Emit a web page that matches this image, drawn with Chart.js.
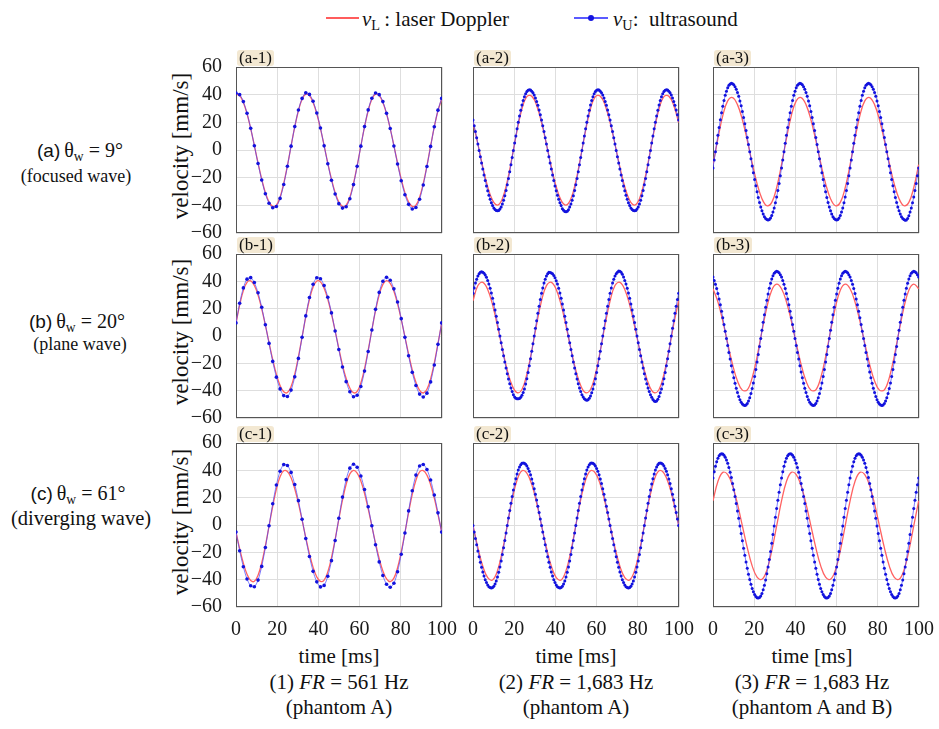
<!DOCTYPE html>
<html>
<head>
<meta charset="utf-8">
<script src="https://cdn.jsdelivr.net/npm/chart.js@4.4.1/dist/chart.umd.min.js"></script>
<style>
  html, body { margin: 0; padding: 0; background: #fff; }
  #fig { position: relative; width: 939px; height: 729px; background: #fff; overflow: hidden;
         font-family: 'Liberation Serif', 'Times New Roman', serif; color: #111; }
  .txt { position: absolute; white-space: nowrap; line-height: 1; transform: translate(-50%, -50%); font-size: 21px; }
  .lt { position: absolute; white-space: nowrap; line-height: 1; transform: translateY(-50%); font-size: 21px; }
  .tag { position: absolute; font-size: 17px; line-height: 16px; height: 16px; padding: 0 2px; background: #f3e8d2; border-radius: 3px; }
  .ylab { position: absolute; font-size: 23px; white-space: nowrap; line-height: 1; transform: translate(-50%, -50%) rotate(-90deg); }
  .sans { font-family: 'Liberation Sans', Arial, sans-serif; font-size: 19px; }
  sub { font-size: 68%; vertical-align: -0.32em; line-height: 0; font-style: normal; }
  canvas { position: absolute; }
</style>
</head>
<body>
<div id="fig">
  <!-- legend -->
  <div style="position:absolute;left:326px;top:17px;width:33px;height:2px;background:#ff5c5c;"></div>
  <div class="lt" style="left:362px;top:19px;"><i>v</i><sub>L</sub>&thinsp;: laser Doppler</div>
  <div style="position:absolute;left:574px;top:17px;width:34px;height:2px;background:#5a5aff;"></div>
  <div style="position:absolute;left:588px;top:15px;width:6px;height:6px;border-radius:3px;background:#1414e0;"></div>
  <div class="lt" style="left:613px;top:19px;"><i>v</i><sub>U</sub>:&nbsp; ultrasound</div>

  <!-- row labels -->
  <div class="txt" style="left:80px;top:150px;font-size:20px;"><span class="sans">(a)</span>&thinsp;θ<sub>w</sub> = 9°</div>
  <div class="txt" style="left:76px;top:176px;font-size:18px;">(focused wave)</div>
  <div class="txt" style="left:77px;top:321px;font-size:20px;"><span class="sans">(b)</span>&thinsp;θ<sub>w</sub> = 20°</div>
  <div class="txt" style="left:80px;top:344px;font-size:18px;">(plane wave)</div>
  <div class="txt" style="left:78px;top:493px;font-size:20px;"><span class="sans">(c)</span>&thinsp;θ<sub>w</sub> = 61°</div>
  <div class="txt" style="left:81px;top:518px;font-size:20.5px;">(diverging wave)</div>

  <!-- y axis titles -->
  <div class="ylab" style="left:180px;top:146px;">velocity [mm/s]</div>
  <div class="ylab" style="left:180px;top:332px;">velocity [mm/s]</div>
  <div class="ylab" style="left:180px;top:522px;">velocity [mm/s]</div>

  <!-- bottom captions -->
  <div class="txt" style="left:339px;top:656px;">time [ms]</div>
  <div class="txt" style="left:339px;top:682px;">(1) <i>FR</i> = 561 Hz</div>
  <div class="txt" style="left:339px;top:707px;">(phantom A)</div>
  <div class="txt" style="left:576px;top:656px;">time [ms]</div>
  <div class="txt" style="left:576px;top:682px;">(2) <i>FR</i> = 1,683 Hz</div>
  <div class="txt" style="left:576px;top:707px;">(phantom A)</div>
  <div class="txt" style="left:812px;top:656px;">time [ms]</div>
  <div class="txt" style="left:812px;top:682px;">(3) <i>FR</i> = 1,683 Hz</div>
  <div class="txt" style="left:812px;top:707px;">(phantom A and B)</div>
</div>

<script>
// sample times [ms]
const timeSlow = [0, 1.78, 3.57, 5.35, 7.13, 8.91, 10.70, 12.48, 14.26, 16.04, 17.83, 19.61, 21.39, 23.17, 24.96, 26.74, 28.52, 30.30, 32.09, 33.87,
  35.65, 37.43, 39.22, 41.00, 42.78, 44.56, 46.35, 48.13, 49.91, 51.69, 53.48, 55.26, 57.04, 58.82, 60.61, 62.39, 64.17, 65.95, 67.74,
  69.52, 71.30, 73.08, 74.87, 76.65, 78.43, 80.21, 82.00, 83.78, 85.56, 87.34, 89.13, 90.91, 92.69, 94.47, 96.26, 98.04, 99.82];

const timeFast = [0, 0.59, 1.19, 1.78, 2.38, 2.97, 3.57, 4.16, 4.75, 5.35,
  5.94, 6.54, 7.13, 7.72, 8.32, 8.91, 9.51, 10.10, 10.70, 11.29,
  11.88, 12.48, 13.07, 13.67, 14.26, 14.85, 15.45, 16.04, 16.64, 17.23,
  17.83, 18.42, 19.01, 19.61, 20.20, 20.80, 21.39, 21.98, 22.58, 23.17,
  23.77, 24.36, 24.96, 25.55, 26.14, 26.74, 27.33, 27.93, 28.52, 29.11,
  29.71, 30.30, 30.90, 31.49, 32.09, 32.68, 33.27, 33.87, 34.46, 35.06,
  35.65, 36.25, 36.84, 37.43, 38.03, 38.62, 39.22, 39.81, 40.40, 41.00,
  41.59, 42.19, 42.78, 43.38, 43.97, 44.56, 45.16, 45.75, 46.35, 46.94,
  47.53, 48.13, 48.72, 49.32, 49.91, 50.51, 51.10, 51.69, 52.29, 52.88,
  53.48, 54.07, 54.66, 55.26, 55.85, 56.45, 57.04, 57.63, 58.23, 58.82,
  59.42, 60.01, 60.61, 61.20, 61.79, 62.39, 62.98, 63.58, 64.17, 64.77,
  65.36, 65.95, 66.55, 67.14, 67.74, 68.33, 68.92, 69.52, 70.11, 70.71,
  71.30, 71.90, 72.49, 73.08, 73.68, 74.27, 74.87, 75.46, 76.05, 76.65,
  77.24, 77.84, 78.43, 79.03, 79.62, 80.21, 80.81, 81.40, 82.00, 82.59,
  83.18, 83.78, 84.37, 84.97, 85.56, 86.16, 86.75, 87.34, 87.94, 88.53,
  89.13, 89.72, 90.32, 90.91, 91.50, 92.10, 92.69, 93.29, 93.88, 94.47,
  95.07, 95.66, 96.26, 96.85, 97.45, 98.04, 98.63, 99.23, 99.82];

const timeLaser = [0, 2.38, 4.75, 7.13, 9.51, 11.88, 14.26, 16.64, 19.01, 21.39, 23.77, 26.14, 28.52, 30.90, 33.27,
  35.65, 38.03, 40.40, 42.78, 45.16, 47.53, 49.91, 52.29, 54.66, 57.04, 59.42, 61.79, 64.17, 66.55, 68.92,
  71.30, 73.68, 76.05, 78.43, 80.81, 83.18, 85.56, 87.94, 90.32, 92.69, 95.07, 97.45, 99.82];

// (a-1) FR = 561 Hz, focused wave
const blueA1 = [41.1, 40.0, 35.0, 26.6, 15.7, 3.1, -9.8, -21.7, -31.6, -38.5, -41.8, -40.8, -35.0, -24.9, -11.7, 2.8, 16.9, 28.9, 37.3,
  41.3, 40.2, 35.2, 26.8, 15.9, 3.0, -9.9, -21.9, -31.8, -38.8, -42.0, -41.0, -35.2, -25.0, -11.8, 2.8, 16.9, 29.0, 37.4,
  41.2, 40.0, 35.0, 26.5, 15.5, 2.9, -10.1, -22.2, -32.3, -39.3, -42.6, -41.6, -35.6, -25.3, -11.9, 2.6, 16.8, 28.8, 37.3];
const redA1 = [40.4, 39.3, 34.4, 26.2, 15.5, 3.2, -9.4, -21.1, -30.8, -37.6, -40.8, -39.9, -34.1, -24.2, -11.3, 2.9, 16.7, 28.4, 36.7,
  40.4, 39.3, 34.4, 26.2, 15.5, 3.2, -9.4, -21.1, -30.8, -37.6, -40.8, -39.9, -34.1, -24.2, -11.3, 2.9, 16.7, 28.4, 36.7,
  40.4, 39.3, 34.4, 26.2, 15.5, 3.2, -9.4, -21.1, -30.8, -37.6, -40.8, -39.9, -34.1, -24.2, -11.3, 2.9, 16.7, 28.4, 36.7];

// (a-2)
const blueA2 = [21.6, 17.5, 13.3, 8.9, 4.3, -0.3, -4.8, -9.4, -13.8, -18.0, -22.1, -26.0, -29.5, -32.8, -35.6, -38.1, -40.2, -41.9, -43.0, -43.8,
  -44.0, -43.7, -42.7, -41.2, -39.0, -36.3, -33.0, -29.3, -25.1, -20.6, -15.8, -10.7, -5.5, -0.3, 5.0, 10.2, 15.3, 20.1, 24.6, 28.8,
  32.5, 35.8, 38.5, 40.7, 42.2, 43.2,
  43.5, 43.3, 42.5, 41.4, 39.7, 37.6, 35.1, 32.3, 29.0, 25.5, 21.6, 17.5, 13.3, 8.9, 4.3, -0.3, -4.8, -9.4, -13.8, -18.0,
  -22.1, -26.0, -29.5, -32.8, -35.6, -38.1, -40.2, -42.4, -43.6, -44.4, -44.6, -44.3, -43.2, -41.2, -39.0, -36.3, -33.0, -29.3, -25.1, -20.6,
  -15.8, -10.7, -5.5, -0.3, 5.0, 10.2, 15.3, 20.1, 24.6, 28.8, 32.5, 35.8, 38.5, 40.7, 42.2, 43.2,
  43.5, 43.3, 42.5, 41.4, 39.7, 37.6, 35.1, 32.3, 29.0, 25.5, 21.6, 17.5, 13.3, 8.9, 4.3, -0.3, -4.8, -9.4, -13.8, -18.0,
  -22.1, -26.0, -29.5, -32.8, -35.6, -38.1, -40.2, -41.9, -43.0, -43.8, -44.0, -43.7, -42.7, -41.2, -39.0, -36.3, -33.0, -29.3, -25.1, -20.6,
  -15.8, -10.7, -5.5, -0.3, 5.0, 10.2, 15.3, 20.1, 24.6, 28.8, 32.5, 35.8, 38.5, 40.7, 42.2, 43.2,
  43.5, 43.3, 42.5, 41.4, 39.7, 37.6, 35.1, 32.3, 29.0, 25.5, 21.6];
const redA2 = [19.9, 4.2, -12.3, -26.6, -36.4, -39.8, -35.2, -22.6, -4.8, 14.1, 29.8, 38.6, 38.9, 32.2,
  19.9, 4.2, -12.3, -26.6, -36.4, -39.8, -35.2, -22.6, -4.8, 14.1, 29.8, 38.6, 38.9, 32.2,
  19.9, 4.2, -12.3, -26.6, -36.4, -39.8, -35.2, -22.6, -4.8, 14.1, 29.8, 38.6, 38.9, 32.2, 19.9];

// (a-3)
const blueA3 = [-13.0, -7.2, -1.2, 4.8, 10.6, 16.3, 21.8, 26.9, 31.6, 35.8, 39.5, 42.5, 45.0, 46.8, 47.8,
  48.2, 47.9, 47.1, 45.8, 43.9, 41.6, 38.8, 35.5, 31.9, 27.8, 23.5, 18.9, 14.1, 9.1, 4.0, -1.2, -6.4, -11.5, -16.5, -21.3,
  -25.9, -30.2, -34.3, -37.9, -41.2, -44.0, -46.3, -48.2, -49.5, -50.3, -50.6, -50.2, -49.2, -47.4, -44.9, -41.9, -38.2, -34.0, -29.3, -24.2,
  -18.7, -13.0, -7.2, -1.2, 4.8, 10.6, 16.3, 21.8, 26.9, 31.6, 35.8, 39.5, 42.5, 45.0, 46.8, 47.8,
  48.2, 47.9, 47.1, 45.8, 43.9, 41.6, 38.8, 35.5, 31.9, 27.8, 23.5, 18.9, 14.1, 9.1, 4.0, -1.2, -6.4, -11.5, -16.5, -21.3,
  -25.9, -30.2, -34.3, -37.9, -41.2, -44.0, -46.3, -48.2, -49.5, -50.3, -50.6, -50.2, -49.2, -47.4, -44.9, -41.9, -38.2, -34.0, -29.3, -24.2,
  -18.7, -13.0, -7.2, -1.2, 4.8, 10.6, 16.3, 21.8, 26.9, 31.6, 35.8, 39.5, 42.5, 45.0, 46.8, 47.8,
  48.2, 47.9, 47.1, 45.8, 43.9, 41.6, 38.8, 35.5, 31.9, 27.8, 23.5, 18.9, 14.1, 9.1, 4.0, -1.2, -6.4, -11.5, -16.5, -21.3,
  -25.9, -30.2, -34.3, -37.9, -41.2, -44.0, -46.3, -48.2, -49.5, -50.3, -50.8, -50.6, -49.6, -47.6, -44.9, -41.9, -38.2, -34.0, -29.3, -24.2,
  -18.7, -13.0];
const redA3 = [-10.6, 8.2, 24.9, 35.5, 37.9, 32.8, 21.9, 7.0, -9.4, -24.3, -35.2, -40.3, -37.9, -27.3,
  -10.6, 8.2, 24.9, 35.5, 37.9, 32.8, 21.9, 7.0, -9.4, -24.3, -35.2, -40.3, -37.9, -27.3,
  -10.6, 8.2, 24.9, 35.5, 37.9, 32.8, 21.9, 7.0, -9.4, -24.3, -35.2, -40.3, -37.9, -27.3, -10.6];

// (b-1) FR = 561 Hz, plane wave
const blueB1 = [9.6, 24.0, 35.2, 41.6, 42.7, 39.1, 31.7, 21.0, 8.2, -5.4, -18.6, -30.1, -38.7, -43.6, -44.3, -39.6, -29.9, -16.4, -0.9, 14.7,
  28.2, 37.9, 42.6, 41.9, 37.0, 28.4, 16.9, 3.7, -9.9, -22.7, -33.4, -40.8, -44.4, -43.3, -36.9, -25.7, -11.3, 4.4, 19.5, 31.9,
  40.1, 42.9, 40.8, 34.5, 24.9, 12.7, -0.9, -14.4, -26.6, -36.2, -42.5, -44.6, -41.8, -33.6, -21.2, -6.1, 9.6];
const redB1 = [9.2, 22.7, 33.2, 39.3, 40.3, 36.9, 29.9, 19.9, 7.9, -4.9, -17.3, -28.1, -36.2, -40.8, -41.4, -37.0, -27.9, -15.2, -0.6, 14.0,
  26.7, 35.8, 40.2, 39.6, 35.0, 26.9, 16.1, 3.7, -9.1, -21.2, -31.1, -38.1, -41.5, -40.5, -34.4, -24.0, -10.4, 4.4, 18.5, 30.2,
  37.8, 40.5, 38.5, 32.7, 23.6, 12.1, -0.6, -13.3, -24.8, -33.9, -39.7, -41.7, -39.0, -31.4, -19.7, -5.6, 9.2];

// (b-2)
const blueB2 = [31.2, 35.2, 38.7, 41.6, 43.9, 45.6, 46.7,
  47.0, 46.7, 46.0, 44.7, 42.9, 40.7, 38.0, 34.9, 31.4, 27.6, 23.5, 19.1, 14.5, 9.8, 4.9, 0, -4.9, -9.8, -14.5, -19.1,
  -23.5, -27.6, -31.4, -34.9, -38.0, -40.7, -42.9, -44.7, -45.6, -45.9, -46.0, -45.7, -44.8, -43.3, -41.3, -38.7, -35.2, -31.2, -26.7, -21.8,
  -16.7, -11.2, -5.7, 0, 5.7, 11.2, 16.7, 21.8, 26.7, 31.2, 35.2, 38.7, 41.6, 43.9, 45.6, 46.7,
  46.4, 46.1, 45.5, 44.3, 42.6, 40.5, 38.0, 34.9, 31.4, 27.6, 23.5, 19.1, 14.5, 9.8, 4.9, 0, -4.9, -9.8, -14.5, -19.1,
  -23.5, -27.6, -31.4, -34.9, -38.0, -40.7, -42.9, -44.7, -46.0, -46.7, -47.0, -46.7, -45.6, -43.9, -41.6, -38.7, -35.2, -31.2, -26.7, -21.8,
  -16.7, -11.2, -5.7, 0, 5.7, 11.2, 16.7, 21.8, 26.7, 31.2, 35.2, 38.7, 41.6, 43.9, 45.6, 46.7,
  47.6, 47.4, 46.6, 45.1, 43.1, 40.7, 38.0, 34.9, 31.4, 27.6, 23.5, 19.1, 14.5, 9.8, 4.9, 0, -4.9, -9.8, -14.5, -19.1,
  -23.5, -27.6, -31.4, -34.9, -38.0, -40.7, -42.9, -44.9, -46.5, -47.5, -47.9, -47.5, -46.2, -44.2, -41.6, -38.7, -35.2, -31.2, -26.7, -21.8,
  -16.7, -11.2, -5.7, 0, 5.7, 11.2, 16.7, 21.8, 26.7, 31.2];
const redB2 = [25.8, 36.9, 39.3, 34.1, 22.8, 7.3, -9.5, -25.0, -36.3, -41.5, -39.1, -28.0, -10.8, 8.6,
  25.8, 36.9, 39.3, 34.1, 22.8, 7.3, -9.5, -25.0, -36.3, -41.5, -39.1, -28.0, -10.8, 8.6,
  25.8, 36.9, 39.3, 34.1, 22.8, 7.3, -9.5, -25.0, -36.3, -41.5, -39.1, -28.0, -10.8, 8.6, 25.8];

// (b-3)
const blueB3 = [43.1, 40.7, 37.9, 34.7, 31.1, 27.1, 22.8, 18.2, 13.4, 8.4, 3.4, -1.8, -6.9, -12.0, -16.9, -21.7,
  -26.3, -30.6, -34.6, -38.2, -41.4, -44.2, -46.6, -48.4, -49.7, -50.5, -50.8, -50.4, -49.4, -47.6, -45.2, -42.1, -38.5, -34.3, -29.6, -24.5,
  -19.1, -13.5, -7.7, -1.8, 4.2, 10.0, 15.6, 21.0, 26.1, 30.8, 35.0, 38.6, 41.7, 44.1, 45.9, 46.9,
  47.3, 47.0, 46.2, 44.9, 43.1, 40.7, 37.9, 34.7, 31.1, 27.1, 22.8, 18.2, 13.4, 8.4, 3.4, -1.8, -6.9, -12.0, -16.9, -21.7,
  -26.3, -30.6, -34.6, -38.2, -41.4, -44.2, -46.6, -48.4, -49.7, -50.5, -50.8, -50.4, -49.4, -47.6, -45.2, -42.1, -38.5, -34.3, -29.6, -24.5,
  -19.1, -13.5, -7.7, -1.8, 4.2, 10.0, 15.6, 21.0, 26.1, 30.8, 35.0, 38.6, 41.7, 44.1, 45.9, 46.9,
  47.3, 47.0, 46.2, 44.9, 43.1, 40.7, 37.9, 34.7, 31.1, 27.1, 22.8, 18.2, 13.4, 8.4, 3.4, -1.8, -6.9, -12.0, -16.9, -21.7,
  -26.3, -30.6, -34.6, -38.2, -41.4, -44.2, -46.6, -48.4, -49.7, -50.5, -50.8, -50.4, -49.4, -47.6, -45.2, -42.1, -38.5, -34.3, -29.6, -24.5,
  -19.1, -13.5, -7.7, -1.8, 4.2, 10.0, 15.6, 21.0, 26.1, 30.8, 35.0, 38.6, 41.7, 44.1, 45.9, 46.9,
  47.3, 47.0, 46.2, 44.9, 43.1];
const redB3 = [34.6, 25.0, 10.9, -5.4, -20.9, -33.0, -39.6, -39.4, -30.6, -15.2, 3.5, 21.0, 33.5, 38.0,
  34.6, 25.0, 10.9, -5.4, -20.9, -33.0, -39.6, -39.4, -30.6, -15.2, 3.5, 21.0, 33.5, 38.0,
  34.6, 25.0, 10.9, -5.4, -20.9, -33.0, -39.6, -39.4, -30.6, -15.2, 3.5, 21.0, 33.5, 38.0, 34.6];

// (c-1) FR = 561 Hz, diverging wave
const blueC1 = [-5.2, -18.8, -30.6, -39.5, -44.5, -45.2, -40.3, -30.3, -16.5, -0.5, 15.5, 29.3, 39.3, 44.2, 43.5, 38.5, 29.6, 17.8, 4.2, -9.9,
  -23.0, -33.9, -41.6, -45.3, -44.2, -37.5, -26.1, -11.3, 4.9, 20.4, 33.2, 41.6, 44.5, 42.3, 35.9, 26.0, 13.4, -0.5, -14.4, -27.0,
  -36.9, -43.3, -45.5, -42.6, -34.2, -21.4, -5.9, 10.3, 25.1, 36.5, 43.2, 44.3, 40.6, 32.9, 22.0, 8.9, -5.2];
const redC1 = [-5.0, -17.3, -28.0, -36.0, -40.6, -41.2, -36.8, -27.8, -15.2, -0.8, 13.7, 26.3, 35.3, 39.7, 39.1, 34.5, 26.5, 15.8, 3.5, -9.2,
  -21.1, -31.0, -38.0, -41.3, -40.3, -34.3, -23.9, -10.5, 4.2, 18.2, 29.8, 37.4, 40.0, 38.0, 32.2, 23.2, 11.8, -0.8, -13.3, -24.7,
  -33.7, -39.5, -41.5, -38.9, -31.3, -19.7, -5.7, 9.0, 22.4, 32.8, 38.8, 39.8, 36.5, 29.5, 19.6, 7.7, -5.0];

// (c-2)
const blueC2 = [-0.4, -5.1, -9.9, -14.5, -19.0, -23.2, -27.2, -31.0, -34.3, -37.4, -40.0, -42.1, -43.9, -45.1, -45.8,
  -46.1, -45.8, -44.8, -43.1, -40.9, -38.0, -34.6, -30.7, -26.3, -21.6, -16.6, -11.3, -5.9, -0.4, 5.2, 10.6, 15.9, 20.9, 25.6, 30.0,
  33.9, 37.3, 40.2, 42.4, 44.1, 45.1,
  45.4, 45.1, 44.4, 43.2, 41.4, 39.3, 36.7, 33.6, 30.3, 26.5, 22.5, 18.3, 13.8, 9.2, 4.4, -0.4, -5.1, -9.9, -14.5, -19.0,
  -23.2, -27.2, -31.0, -34.3, -37.4, -40.0, -42.1, -43.9, -45.1, -45.8, -46.1, -45.8, -44.8, -43.1, -40.9, -38.0, -34.6, -30.7, -26.3, -21.6,
  -16.6, -11.3, -5.9, -0.4, 5.2, 10.6, 15.9, 20.9, 25.6, 30.0, 33.9, 37.3, 40.2, 42.4, 44.1, 45.1,
  45.4, 45.1, 44.4, 43.2, 41.4, 39.3, 36.7, 33.6, 30.3, 26.5, 22.5, 18.3, 13.8, 9.2, 4.4, -0.4, -5.1, -9.9, -14.5, -19.0,
  -23.2, -27.2, -31.0, -34.3, -37.4, -40.0, -42.1, -43.9, -45.1, -45.8, -46.1, -45.8, -44.8, -43.1, -40.9, -38.0, -34.6, -30.7, -26.3, -21.6,
  -16.6, -11.3, -5.9, -0.4, 5.2, 10.6, 15.9, 20.9, 25.6, 30.0, 33.9, 37.3, 40.2, 42.4, 44.1, 45.1,
  45.4, 45.1, 44.4, 43.2, 41.4, 39.3, 36.7, 33.6, 30.3, 26.5, 22.5, 18.3, 13.8, 9.2, 4.4, -0.4];
const redC2 = [-0.3, -16.6, -30.2, -38.5, -40.2, -33.4, -19.0, -0.3, 18.5, 32.9, 39.7, 38.0, 29.7, 16.1,
  -0.3, -16.6, -30.2, -38.5, -40.2, -33.4, -19.0, -0.3, 18.5, 32.9, 39.7, 38.0, 29.7, 16.1,
  -0.3, -16.6, -30.2, -38.5, -40.2, -33.4, -19.0, -0.3, 18.5, 32.9, 39.7, 38.0, 29.7, 16.1, -0.3];

// (c-3)
const blueC3 = [34.4, 38.9, 42.9, 46.2, 48.8, 50.7, 51.8,
  52.2, 51.9, 51.0, 49.6, 47.6, 45.1, 42.1, 38.6, 34.7, 30.4, 25.8, 20.8, 15.7, 10.3, 4.9, -0.7, -6.2, -11.6, -17.0, -22.1,
  -27.1, -31.7, -36.0, -39.9, -43.4, -46.4, -48.9, -50.9, -52.3, -53.2, -53.5, -53.1, -52.0, -50.1, -47.4, -44.1, -40.2, -35.7, -30.7, -25.2,
  -19.4, -13.3, -7.0, -0.7, 5.7, 12.0, 18.1, 23.9, 29.4, 34.4, 38.9, 42.9, 46.2, 48.8, 50.7, 51.8,
  52.2, 51.9, 51.0, 49.6, 47.6, 45.1, 42.1, 38.6, 34.7, 30.4, 25.8, 20.8, 15.7, 10.3, 4.9, -0.7, -6.2, -11.6, -17.0, -22.1,
  -27.1, -31.7, -36.0, -39.9, -43.4, -46.4, -48.9, -50.9, -52.3, -53.2, -53.5, -53.1, -52.0, -50.1, -47.4, -44.1, -40.2, -35.7, -30.7, -25.2,
  -19.4, -13.3, -7.0, -0.7, 5.7, 12.0, 18.1, 23.9, 29.4, 34.4, 38.9, 42.9, 46.2, 48.8, 50.7, 51.8,
  52.2, 51.9, 51.0, 49.6, 47.6, 45.1, 42.1, 38.6, 34.7, 30.4, 25.8, 20.8, 15.7, 10.3, 4.9, -0.7, -6.2, -11.6, -17.0, -22.1,
  -27.1, -31.7, -36.0, -39.9, -43.4, -46.4, -48.9, -50.9, -52.3, -53.2, -53.5, -53.1, -52.0, -50.1, -47.4, -44.1, -40.2, -35.7, -30.7, -25.2,
  -19.4, -13.3, -7.0, -0.7, 5.7, 12.0, 18.1, 23.9, 29.4, 34.4];
const redC3 = [17.7, 31.8, 38.5, 36.9, 28.7, 15.4, -0.6, -16.6, -29.9, -38.1, -39.7, -33.0, -18.9, -0.6,
  17.7, 31.8, 38.5, 36.9, 28.7, 15.4, -0.6, -16.6, -29.9, -38.1, -39.7, -33.0, -18.9, -0.6,
  17.7, 31.8, 38.5, 36.9, 28.7, 15.4, -0.6, -16.6, -29.9, -38.1, -39.7, -33.0, -18.9, -0.6, 17.7];

const timeTicks = [0, 20, 40, 60, 80, 100];
const velocityTicks = [-60, -40, -20, 0, 20, 40, 60];

const panels = [
  { tag: '(a-1)', row: 0, col: 0, tBlue: timeSlow, blue: blueA1, tRed: timeSlow, red: redA1 },
  { tag: '(a-2)', row: 0, col: 1, tBlue: timeFast, blue: blueA2, tRed: timeLaser, red: redA2 },
  { tag: '(a-3)', row: 0, col: 2, tBlue: timeFast, blue: blueA3, tRed: timeLaser, red: redA3 },
  { tag: '(b-1)', row: 1, col: 0, tBlue: timeSlow, blue: blueB1, tRed: timeSlow, red: redB1 },
  { tag: '(b-2)', row: 1, col: 1, tBlue: timeFast, blue: blueB2, tRed: timeLaser, red: redB2 },
  { tag: '(b-3)', row: 1, col: 2, tBlue: timeFast, blue: blueB3, tRed: timeLaser, red: redB3 },
  { tag: '(c-1)', row: 2, col: 0, tBlue: timeSlow, blue: blueC1, tRed: timeSlow, red: redC1 },
  { tag: '(c-2)', row: 2, col: 1, tBlue: timeFast, blue: blueC2, tRed: timeLaser, red: redC2 },
  { tag: '(c-3)', row: 2, col: 2, tBlue: timeFast, blue: blueC3, tRed: timeLaser, red: redC3 }
];

// page layout of the plot boxes
const colLeft = [236, 473, 713];
const rowTop = [67, 254, 443];
const rowHeight = [166, 164, 164];
const plotWidth = 206;

Chart.defaults.font.family = "'Liberation Serif', 'Times New Roman', serif";
Chart.defaults.color = '#1a1a1a';

// plot box like matlab axes
const framePlugin = {
  id: 'frame',
  beforeDatasetsDraw(chart) {
    const a = chart.chartArea;
    const ctx = chart.ctx;
    ctx.save();
    ctx.strokeStyle = '#555';
    ctx.lineWidth = 1;
    ctx.strokeRect(Math.round(a.left) + 0.5, Math.round(a.top) + 0.5,
      Math.round(a.right - a.left) - 1, Math.round(a.bottom - a.top) - 1);
    ctx.restore();
  }
};

const fig = document.getElementById('fig');

panels.forEach(p => {
  const axW = 50, padT = 12, padR = 18;
  const showX = p.row === 2;
  const showY = p.col === 0;
  const xH = showX ? 34 : 0;
  const padB = showX ? 0 : 12;
  const w = axW + plotWidth + padR;
  const h = padT + rowHeight[p.row] + xH + padB;

  const canvas = document.createElement('canvas');
  canvas.width = w;
  canvas.height = h;
  canvas.style.left = (colLeft[p.col] - axW) + 'px';
  canvas.style.top = (rowTop[p.row] - padT) + 'px';
  canvas.style.width = w + 'px';
  canvas.style.height = h + 'px';
  fig.appendChild(canvas);

  const tag = document.createElement('div');
  tag.className = 'tag';
  tag.textContent = p.tag;
  tag.style.left = (colLeft[p.col] + 1) + 'px';
  tag.style.top = (rowTop[p.row] - 17) + 'px';
  fig.appendChild(tag);

  const slow = p.tBlue.length < 100;

  new Chart(canvas, {
    type: 'line',
    data: {
      datasets: [{
        label: 'vU: ultrasound',
        data: p.tBlue.map((t, i) => ({ x: t, y: p.blue[i] })),
        borderColor: 'rgba(70, 70, 255, 0.7)',
        borderWidth: 1,
        pointRadius: slow ? 1.8 : 1.5,
        pointBackgroundColor: '#1212dd',
        pointBorderWidth: 0,
        tension: slow ? 0.3 : 0,
        order: 0
      }, {
        label: 'vL: laser Doppler',
        data: p.tRed.map((t, i) => ({ x: t, y: p.red[i] })),
        borderColor: '#ff6262',
        borderWidth: 1.3,
        pointRadius: 0,
        tension: 0.4,
        order: 1
      }]
    },
    options: {
      responsive: false,
      animation: false,
      devicePixelRatio: 1,
      layout: { autoPadding: false, padding: { left: 0, top: padT, right: padR, bottom: padB } },
      plugins: { legend: { display: false }, tooltip: { enabled: false } },
      scales: {
        x: {
          type: 'linear',
          min: 0,
          max: 100,
          afterBuildTicks: s => { s.ticks = timeTicks.map(v => ({ value: v })); },
          ticks: { display: showX, font: { size: 20 }, padding: 11, maxRotation: 0, autoSkip: false },
          grid: { color: '#dedede', drawTicks: false },
          border: { display: false },
          afterFit: s => { s.height = xH; s.paddingLeft = 0; s.paddingRight = 0; }
        },
        y: {
          min: -60,
          max: 60,
          afterBuildTicks: s => { s.ticks = velocityTicks.map(v => ({ value: v })); },
          ticks: {
            display: showY, font: { size: 20 }, padding: 14, autoSkip: false,
            callback: v => String(v).replace('-', '\u2212')
          },
          grid: { color: '#dedede', drawTicks: false },
          border: { display: false },
          afterFit: s => { s.width = axW; s.paddingTop = 0; s.paddingBottom = 0; }
        }
      }
    },
    plugins: [framePlugin]
  });
});
</script>
</body>
</html>
